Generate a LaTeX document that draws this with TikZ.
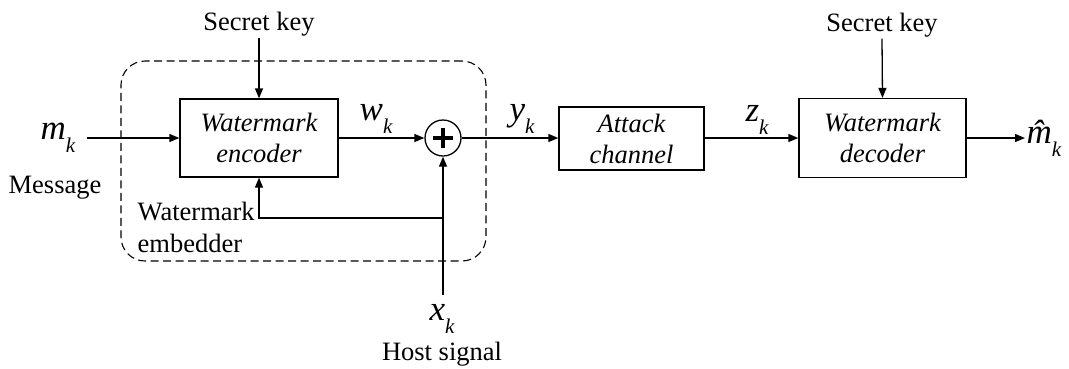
\documentclass[tikz,border=0pt]{standalone}
\usepackage{fontspec}
\setmainfont{LiberationSerif}[Extension=.ttf,UprightFont=*-Regular,ItalicFont=*-Italic,BoldFont=*-Bold,BoldItalicFont=*-BoldItalic]
\usetikzlibrary{arrows.meta,calc}
\newcommand{\sv}[2]{{\fontsize{35}{36}\selectfont\itshape #1}{\fontsize{21}{22}\selectfont\itshape\raisebox{-13pt}{#2}}}
\begin{document}
\begin{tikzpicture}[x=1pt,y=-1pt,line width=1.3pt,
  arr/.style={-{Triangle[length=10pt,width=8pt]}},
  blk/.style={draw,rectangle,inner sep=0pt,align=center,font=\fontsize{26.5}{31}\selectfont\itshape},
  lbl/.style={inner sep=1pt,font=\fontsize{26.5}{32}\selectfont},
  sym/.style={inner sep=1pt}]
\useasboundingbox (0,0) rectangle (1069,368);
% dashed embedder region
\node[draw,line width=1.1pt,dash pattern=on 8pt off 4.5pt,rounded corners=24pt,minimum width=365pt,minimum height=200pt] (emb) at (303.5,161) {};
% blocks
\node[blk,minimum width=158pt,minimum height=78pt] (enc) at (259,138) {Watermark\\encoder};
\node[draw,circle,minimum size=36pt,inner sep=0pt] (add) at (443,138) {};
\draw[line width=3.4pt] ($(add.center)+(-10,0)$) -- ($(add.center)+(10,0)$);
\draw[line width=3.4pt] ($(add.center)+(0,-10)$) -- ($(add.center)+(0,10)$);
\node[blk,minimum width=145pt,minimum height=63pt] (att) at (631.5,138.5) {Attack\\channel};
\node[blk,minimum width=167pt,minimum height=79pt] (dec) at (882.5,138) {Watermark\\decoder};
% texts
\node[lbl] (sk1) at (259,24) {Secret key};
\node[lbl] (sk2) at (882,25) {Secret key};
\node[sym] (mk) at (58,138) {\sv{m}{k}};
\node[lbl] (msg) at (55,188) {Message};
\node[lbl,align=left,anchor=west] (embl) at (136,227) {Watermark\\embedder};
\node[sym] (wk) at (376,119) {\sv{w}{k}};
\node[sym] (yk) at (522,119) {\sv{y}{k}};
\node[sym] (zk) at (757,120) {\sv{z}{k}};
\node[sym,anchor=west] (mhat) at (1025,138) {\sv{\^{m}}{k}};
\node[sym] (xk) at (442,319) {\sv{x}{k}};
\node[lbl] (host) at (442,354) {Host signal};
\coordinate (hostin) at (443,295);
\coordinate (fb) at (443,218);
% connectors
\draw[arr] (sk1.south) -- (enc.north);
\draw[arr] (sk2.south) -- (dec.north);
\draw[arr,shorten <=10pt] (mk.east) -- (enc.west);
\draw[arr] (enc.east) -- (add.west);
\draw[arr] (add.east) -- (add.east -| att.west);
\draw[arr] (att.east |- dec.west) -- (dec.west);
\draw[arr] (dec.east) -- (mhat.west);
\draw[arr] (hostin) -- (add.south);
\draw[arr] (fb) -| (enc.south);
\end{tikzpicture}
\end{document}
